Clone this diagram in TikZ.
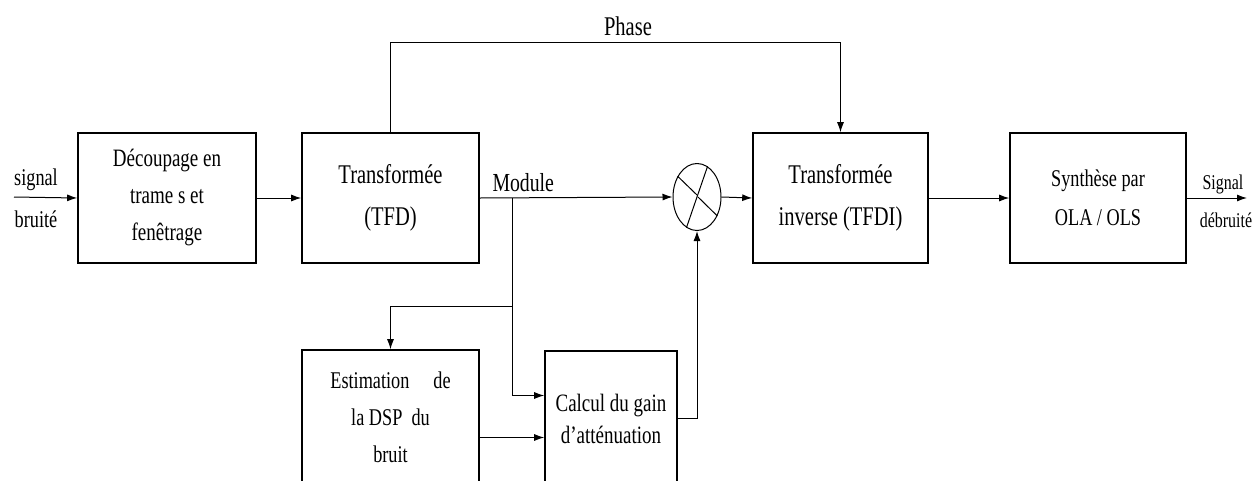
\documentclass[tikz,border=0pt]{standalone}
\usepackage{fontspec}
\setmainfont{Liberation Serif}[FakeStretch=0.76]
\usetikzlibrary{arrows.meta,shapes.geometric}
\tikzset{
  bloc/.style={draw,line width=1.6pt,minimum width=177pt,minimum height=130pt,align=center,inner sep=0pt},
  lbl/.style={anchor=base,inner sep=0pt},
}
\begin{document}
\begin{tikzpicture}[x=1pt,y=-1pt,>={Latex[length=10pt,width=7pt]},line width=1pt]
\useasboundingbox (0,0) rectangle (1258,480);
% blocs de la chaine principale
\node[bloc,minimum width=178pt,font=\fontsize{25}{37}\selectfont](dec) at (167,198) {Découpage en\\trame s et\\fenêtrage};
\node[bloc,font=\fontsize{27}{42}\selectfont](tfd) at (390.5,198) {Transformée\\(TFD)};
\node[bloc,minimum width=175pt,font=\fontsize{27}{42}\selectfont](tfdi) at (840.5,198) {Transformée\\inverse (TFDI)};
\node[bloc,minimum width=176pt,font=\fontsize{24}{39}\selectfont](ola) at (1098,198) {Synthèse par\\OLA / OLS};
% blocs du bas
\node[bloc,minimum height=135pt,font=\fontsize{24}{37}\selectfont](dsp) at (390.5,417.5) {Estimation\quad de\\la DSP\ \ du\\bruit};
\node[bloc,minimum width=132pt,minimum height=135pt,font=\fontsize{25}{32}\selectfont](gain) at (611,418.5) {Calcul du gain\\d’atténuation};
% multiplieur
\node[draw,ellipse,minimum width=48pt,minimum height=67pt,inner sep=0pt](mul) at (697,197) {};
\draw (mul.133) -- ([yshift=2pt]mul.center) (mul.-43) -- ([xshift=1pt]mul.center);
\draw (mul.71) -- (mul.center) -- (mul.251);
% connexions
\coordinate (in) at (14,197);
\coordinate (out) at (1247,198);
\coordinate (br) at ([xshift=33pt]tfd.east);
\coordinate (br2) at (512,306);
\draw[->] (in) -- (dec.west);
\draw[->] (dec.east) -- (tfd.west);
\draw[->] (tfd.east) -- (mul.west);
\draw[->] (mul.east) -- (tfdi.west);
\draw[->] (tfdi.east) -- (ola.west);
\draw[->] (ola.east) -- (out);
\draw[->] (tfd.north) -- ++(0,-90) -| (tfdi.north);
\draw[->] (br) |- ([yshift=23pt]gain.west);
\draw[->] (br2) -| (dsp.north);
\draw[->] ([yshift=-20pt]dsp.east) -- ([yshift=-20pt]dsp.east -| gain.west);
\draw[->] (gain.east) -| (mul.south);
% etiquettes
\node[lbl,font=\fontsize{24}{24}\selectfont](sig) at (36,185) {signal};
\node[lbl,font=\fontsize{24}{24}\selectfont](bru) at (36,227) {bruité};
\node[lbl,anchor=base west,font=\fontsize{26}{26}\selectfont](mod) at (492,191) {Module};
\node[lbl,font=\fontsize{27}{27}\selectfont](pha) at (628,35) {Phase};
\node[lbl,font=\fontsize{21}{21}\selectfont](sigd) at (1223,189) {Signal};
\node[lbl,font=\fontsize{21}{21}\selectfont](debr) at (1226,227) {débruité};
\end{tikzpicture}
\end{document}
